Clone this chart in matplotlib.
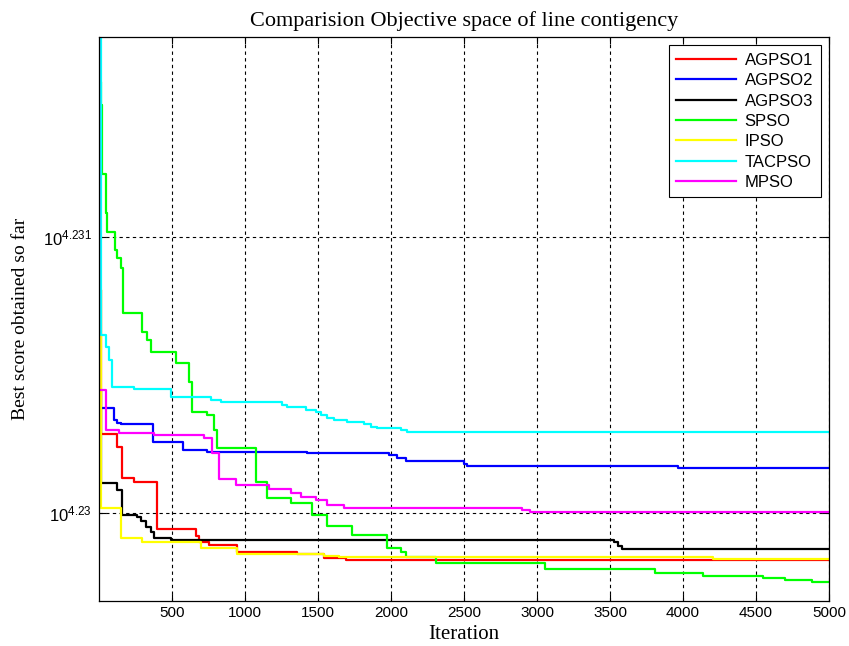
import matplotlib.pyplot as plt
import numpy as np

# iteration where each best score changes, and log10 of the best score from there on
agpso1_it = [1, 13, 123, 157, 239, 397, 665, 685, 754, 946, 1357, 1543, 1694, 5000]
agpso1_lg = [4.230808, 4.230286, 4.230239, 4.230127, 4.230112, 4.229942, 4.229917,
             4.229895, 4.229884, 4.229859, 4.229851, 4.229837, 4.229830, 4.229830]

agpso2_it = [1, 102, 123, 150, 370, 576, 740, 1426, 1988, 2043, 2105, 2503, 2524, 3964, 5000]
agpso2_lg = [4.230380, 4.230337, 4.230326, 4.230322, 4.230257, 4.230228, 4.230221,
             4.230217, 4.230210, 4.230199, 4.230188, 4.230178, 4.230170, 4.230163, 4.230163]

agpso3_it = [1, 13, 123, 157, 260, 288, 322, 356, 377, 493, 3525, 3553, 3580, 5000]
agpso3_lg = [4.230446, 4.230109, 4.230083, 4.229993, 4.229986, 4.229971, 4.229949,
             4.229931, 4.229909, 4.229902, 4.229895, 4.229880, 4.229870, 4.229870]

spso_it = [1, 13, 22, 49, 54, 109, 123, 150, 164, 294, 329, 356, 527, 617, 637, 740, 788,
           809, 1076, 1152, 1316, 1460, 1563, 1735, 1975, 2071, 2105, 2311, 3052, 3806,
           4136, 4548, 4698, 4884, 5000]
spso_lg = [4.231562, 4.231478, 4.231228, 4.231087, 4.231018, 4.230953, 4.230924, 4.230888,
           4.230725, 4.230656, 4.230627, 4.230583, 4.230543, 4.230475, 4.230366, 4.230355,
           4.230301, 4.230235, 4.230112, 4.230054, 4.230036, 4.229993, 4.229953, 4.229920,
           4.229873, 4.229859, 4.229841, 4.229819, 4.229797, 4.229783, 4.229772, 4.229765,
           4.229757, 4.229750, 4.229750]

ipso_it = [1, 16, 150, 294, 699, 946, 1543, 1645, 4204, 5000]
ipso_lg = [4.230808, 4.230018, 4.229909, 4.229895, 4.229873, 4.229851,
           4.229844, 4.229841, 4.229833, 4.229833]

tacpso_it = [1, 13, 47, 68, 88, 239, 493, 768, 836, 1255, 1289, 1419, 1488, 1522, 1563,
             1611, 1700, 1817, 1865, 1906, 2071, 2112, 5000]
tacpso_lg = [4.232000, 4.230645, 4.230601, 4.230554, 4.230456, 4.230449, 4.230420,
             4.230409, 4.230402, 4.230391, 4.230384, 4.230373, 4.230366, 4.230355,
             4.230344, 4.230337, 4.230330, 4.230322, 4.230312, 4.230308, 4.230301,
             4.230293, 4.230293]

mpso_it = [1, 3, 47, 137, 377, 720, 774, 822, 939, 1165, 1316, 1385, 1488, 1563, 1680,
           2900, 2950, 5000]
mpso_lg = [4.232000, 4.230446, 4.230301, 4.230290, 4.230283, 4.230272, 4.230217,
           4.230123, 4.230101, 4.230087, 4.230072, 4.230058, 4.230047, 4.230029,
           4.230018, 4.230011, 4.230004, 4.230004]

series = [
    ("AGPSO1", agpso1_it, agpso1_lg, "#ff0000"),
    ("AGPSO2", agpso2_it, agpso2_lg, "#0000ff"),
    ("AGPSO3", agpso3_it, agpso3_lg, "#000000"),
    ("SPSO", spso_it, spso_lg, "#00ff00"),
    ("IPSO", ipso_it, ipso_lg, "#ffff00"),
    ("TACPSO", tacpso_it, tacpso_lg, "#00ffff"),
    ("MPSO", mpso_it, mpso_lg, "#ff00ff"),
]

fig = plt.figure(figsize=(8.49, 6.46), dpi=100)
ax = fig.add_axes([0.1166, 0.0697, 0.8598, 0.873])

for name, it, lg, col in series:
    ax.step(it, 10 ** np.array(lg), where="post", color=col, linewidth=1.6, label=name)

ax.set_yscale("log")
ax.set_xlim(0, 5000)
ax.set_ylim(10 ** 4.229681, 10 ** 4.231725)
ax.yaxis.set_minor_locator(plt.NullLocator())
ax.set_yticks([10 ** 4.23, 10 ** 4.231])
ax.set_yticklabels([r"$\mathregular{10^{4.23}}$", r"$\mathregular{10^{4.231}}$"],
                   fontfamily="Liberation Sans", fontsize=12)
ax.set_xticks(np.arange(500, 5001, 500))
ax.set_xticklabels([str(v) for v in range(500, 5001, 500)],
                   fontfamily="Liberation Sans", fontsize=11)
ax.tick_params(direction="in", top=True, right=True, length=5, width=0.8)
ax.tick_params(axis="y", pad=5)
ax.grid(True, color="black", linestyle=(0, (3, 3)), linewidth=0.8)

for s in ax.spines.values():
    s.set_linewidth(0.9)

ax.set_title("Comparision Objective space of line contigency",
             fontfamily="Liberation Serif", fontsize=16, pad=8)
ax.set_xlabel("Iteration", fontfamily="Liberation Serif", fontsize=15, labelpad=4)
ax.set_ylabel("Best score obtained so far", fontfamily="Liberation Serif", fontsize=14,
              labelpad=10)

leg = ax.legend(loc="upper right", fancybox=False, edgecolor="black", framealpha=1,
                prop={"family": "Liberation Sans", "size": 12}, borderaxespad=0.5,
                handlelength=3.6, labelspacing=0.32, handletextpad=0.5, borderpad=0.45)
leg.get_frame().set_linewidth(0.8)

fig.savefig("out.png", dpi=100)
